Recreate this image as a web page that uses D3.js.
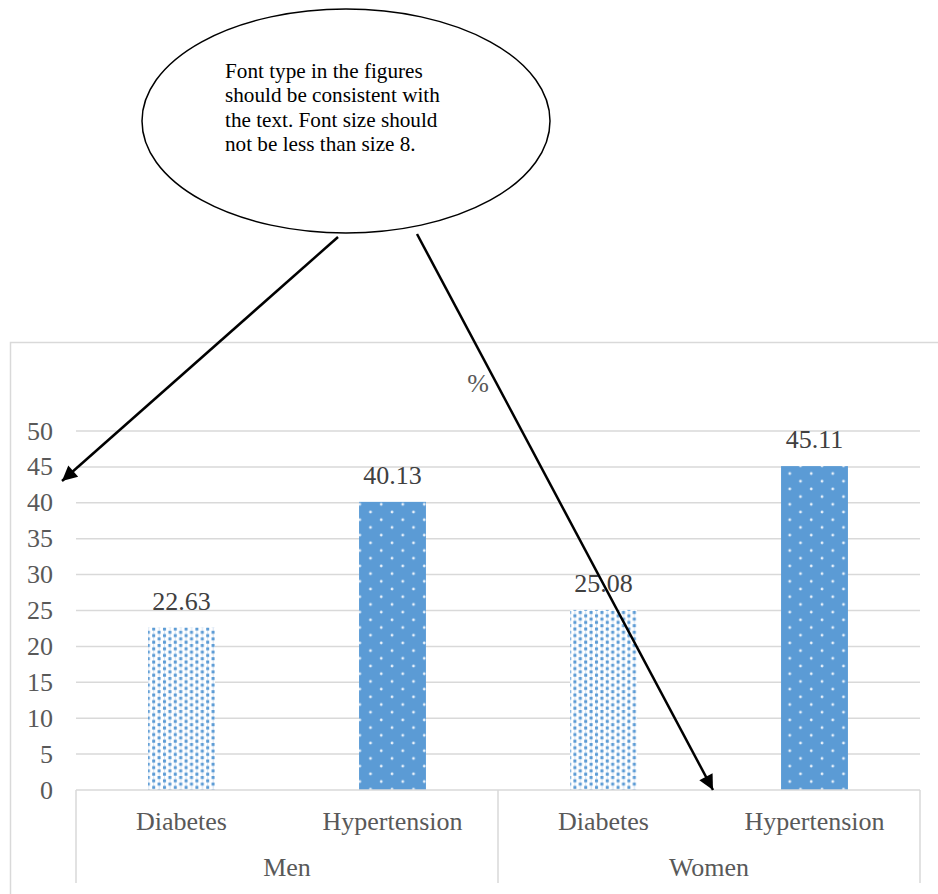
<!DOCTYPE html>
<html>
<head>
<meta charset="utf-8">
<script src="https://cdn.jsdelivr.net/npm/d3@7"></script>
<style>
html,body{margin:0;padding:0;background:#fff;}
svg{display:block;}
svg text{font-family:"Liberation Serif","Tinos","Times New Roman",Times,"DejaVu Serif","Noto Serif",serif;}
</style>
</head>
<body>
<svg id="chart" width="938" height="894"></svg>
<script>
const groups = ["Men", "Women"];
const diseases = ["Diabetes", "Hypertension"];
const menValues = [22.63, 40.13];
const womenValues = [25.08, 45.11];
const yTicks = [0, 5, 10, 15, 20, 25, 30, 35, 40, 45, 50];
const axisUnit = "%";
const noteLines = [
  "Font type in the figures",
  "should be consistent with",
  "the text. Font size should",
  "not be less than size 8."
];

const rows = [];
groups.forEach((g, gi) => {
  const vals = gi === 0 ? menValues : womenValues;
  diseases.forEach((d, di) => rows.push({group: g, disease: d, key: g + "|" + d, value: vals[di]}));
});

const svg = d3.select("#chart");
const textGrey = "#595959";
const gridCol = "#d9d9d9";
const blue = "#5b9bd5";

const left = 76, right = 920, y0 = 790, y50 = 431;
const y = d3.scaleLinear().domain([0, 50]).range([y0, y50]);
const xGroup = d3.scaleBand().domain(groups).range([left, right]);
const x = d3.scaleBand().domain(rows.map(r => r.key)).range([left, right])
  .paddingInner(0.683).paddingOuter(0.3415);
const xCat = d3.scaleBand().domain(rows.map(r => r.key)).range([left, right]);

// patterns
const defs = svg.append("defs");
const pDia = defs.append("pattern").attr("id", "pDia").attr("patternUnits", "userSpaceOnUse")
  .attr("width", 10.8).attr("height", 6.6);
pDia.append("rect").attr("width", 10.8).attr("height", 6.6).attr("fill", "#fff");
pDia.append("rect").attr("x", 2.2).attr("width", 0.8).attr("height", 6.6).attr("fill", "#c9dcf0");
pDia.append("rect").attr("x", 7.6).attr("width", 0.8).attr("height", 6.6).attr("fill", "#c9dcf0");
pDia.append("rect").attr("x", 1).attr("y", 0.5).attr("width", 3).attr("height", 3).attr("fill", blue);
pDia.append("rect").attr("x", 6.4).attr("y", 3.8).attr("width", 3).attr("height", 3).attr("fill", blue);
pDia.append("rect").attr("x", 6.4).attr("y", -2.8).attr("width", 3).attr("height", 3).attr("fill", blue);

const pHyp = defs.append("pattern").attr("id", "pHyp").attr("patternUnits", "userSpaceOnUse")
  .attr("width", 21.5).attr("height", 15.4);
pHyp.append("rect").attr("width", 21.5).attr("height", 15.4).attr("fill", blue);
pHyp.append("circle").attr("cx", 5).attr("cy", 3.9).attr("r", 1.4).attr("fill", "#e8f1fa");
pHyp.append("circle").attr("cx", 15.75).attr("cy", 11.6).attr("r", 1.4).attr("fill", "#e8f1fa");

// outer chart frame
svg.append("rect").attr("x", 10.5).attr("y", 342.5).attr("width", 960).attr("height", 600)
  .attr("fill", "none").attr("stroke", gridCol).attr("stroke-width", 1.5);

// gridlines
svg.append("g").selectAll("line").data(yTicks.filter(t => t > 0)).join("line")
  .attr("x1", left).attr("x2", right)
  .attr("y1", d => y(d)).attr("y2", d => y(d))
  .attr("stroke", gridCol).attr("stroke-width", 1.5);

// y tick labels
svg.append("g").selectAll("text").data(yTicks).join("text")
  .attr("x", 53).attr("y", d => y(d) + 8.5)
  .attr("text-anchor", "end")
  .attr("font-size", 26).attr("fill", textGrey)
  .text(d => d);

// unit label
svg.append("text").attr("x", 478).attr("y", 392).attr("text-anchor", "middle")
  .attr("font-size", 26).attr("fill", textGrey).text(axisUnit);

// bars
svg.append("g").selectAll("rect").data(rows).join("rect")
  .attr("x", d => x(d.key)).attr("width", x.bandwidth())
  .attr("y", d => y(d.value)).attr("height", d => y(0) - y(d.value))
  .attr("fill", d => d.disease === "Diabetes" ? "url(#pDia)" : "url(#pHyp)");

// value labels
svg.append("g").selectAll("text").data(rows).join("text")
  .attr("x", d => x(d.key) + x.bandwidth() / 2).attr("y", d => y(d.value) - 18)
  .attr("text-anchor", "middle")
  .attr("font-size", 26).attr("fill", "#404040")
  .text(d => d.value.toFixed(2));

// category axis box
const axisG = svg.append("g").attr("stroke", gridCol).attr("stroke-width", 1.5);
axisG.append("line").attr("x1", left).attr("x2", right).attr("y1", y0).attr("y2", y0);
const vLines = groups.map(g => xGroup(g)).concat([right]);
axisG.selectAll(".v").data(vLines).join("line")
  .attr("x1", d => d).attr("x2", d => d).attr("y1", y0).attr("y2", 883);

svg.append("g").selectAll("text").data(rows).join("text")
  .attr("x", d => xCat(d.key) + xCat.bandwidth() / 2).attr("y", 830)
  .attr("text-anchor", "middle")
  .attr("font-size", 26).attr("fill", textGrey)
  .text(d => d.disease);

svg.append("g").selectAll("text").data(groups).join("text")
  .attr("x", d => xGroup(d) + xGroup.bandwidth() / 2).attr("y", 876)
  .attr("text-anchor", "middle")
  .attr("font-size", 26).attr("fill", textGrey)
  .text(d => d);

// callout ellipse
svg.append("ellipse").attr("cx", 346).attr("cy", 121).attr("rx", 204).attr("ry", 112)
  .attr("fill", "#fff").attr("stroke", "#000").attr("stroke-width", 1.5);
svg.append("g").selectAll("text").data(noteLines).join("text")
  .attr("x", 225).attr("y", (d, i) => 77.5 + i * 24.5)
  .attr("font-size", 21.2).attr("fill", "#000")
  .text(d => d);

// arrows
defs.append("marker").attr("id", "arrow").attr("viewBox", "0 0 10 10")
  .attr("refX", 10).attr("refY", 5).attr("markerWidth", 8).attr("markerHeight", 6)
  .attr("markerUnits", "strokeWidth").attr("orient", "auto")
  .append("path").attr("d", "M0,0 L10,5 L0,10 Z").attr("fill", "#000");

const arrows = [
  {x1: 338, y1: 237, x2: 62, y2: 481},
  {x1: 417, y1: 234, x2: 713, y2: 790}
];
svg.append("g").selectAll("line").data(arrows).join("line")
  .attr("x1", d => d.x1).attr("y1", d => d.y1).attr("x2", d => d.x2).attr("y2", d => d.y2)
  .attr("stroke", "#000").attr("stroke-width", 2.5).attr("marker-end", "url(#arrow)");
</script>
</body>
</html>
